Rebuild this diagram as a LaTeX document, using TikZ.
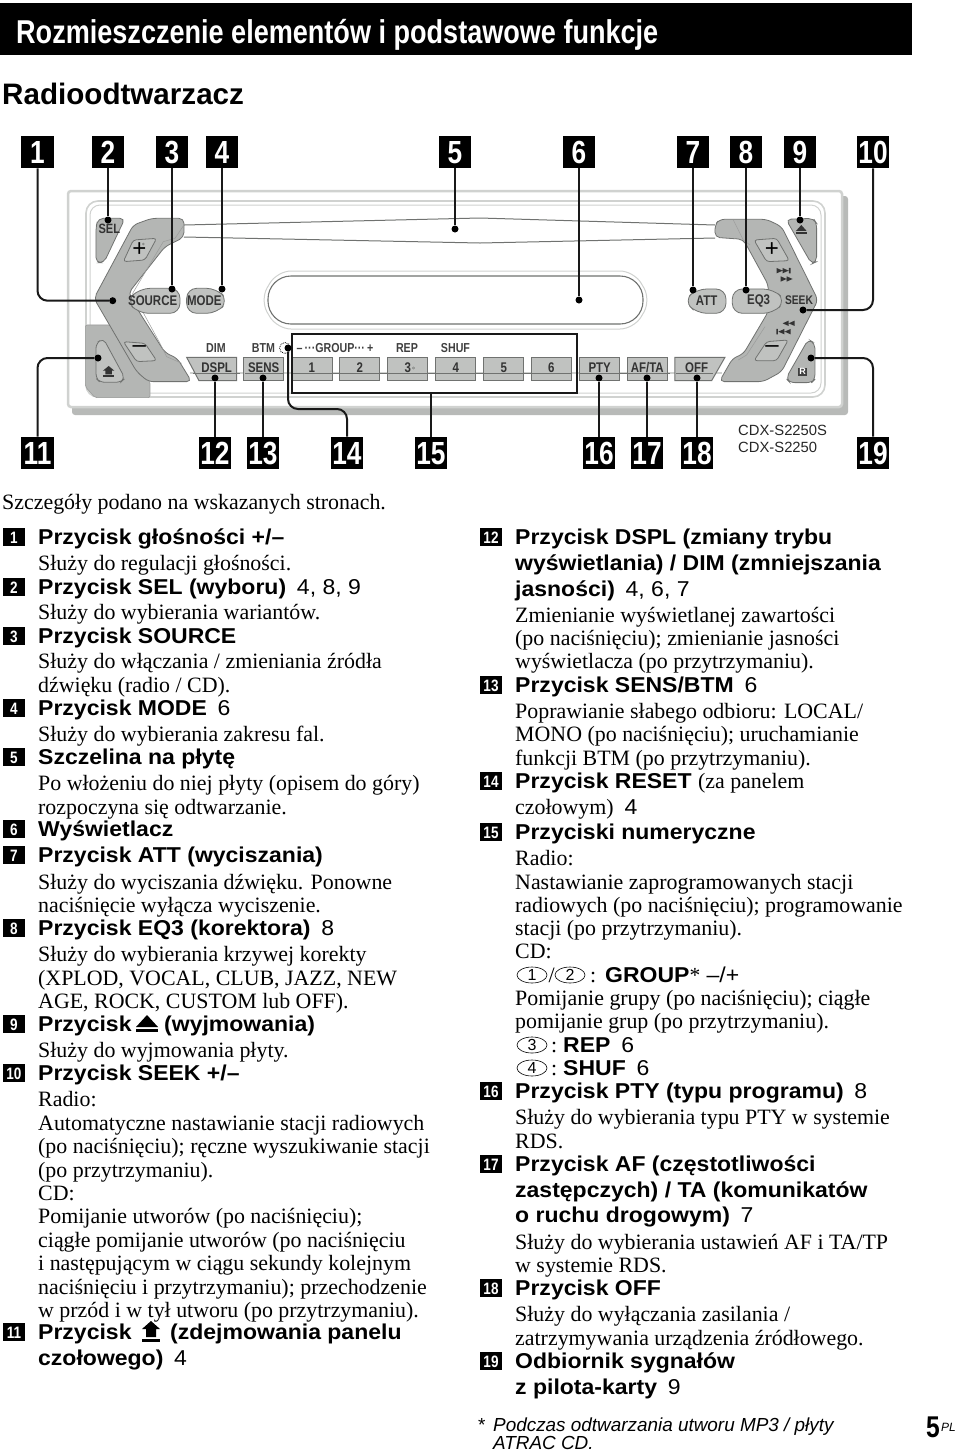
\documentclass[tikz,border=0pt]{standalone}
\usepackage{fontspec}
\usepackage{xcolor}
\setmainfont{Liberation Serif}
\setsansfont{Liberation Sans}
\newfontfamily\narrowfont[FakeStretch=0.82]{Liberation Sans}
\newfontfamily\bannerfont[FakeStretch=0.82]{Liberation Sans}
\newfontfamily\widefont[FakeStretch=1.07]{Liberation Sans}
\usetikzlibrary{shapes.geometric,positioning}
\definecolor{shellg}{RGB}{180,182,180}
\definecolor{btng}{RGB}{192,194,192}
\definecolor{edgeg}{RGB}{112,114,112}
\definecolor{frameg}{RGB}{208,210,208}
\definecolor{shadeg}{RGB}{184,186,184}
\newcommand{\fsz}[1]{\fontsize{#1}{#1}\selectfont}
\newcommand{\pgnum}[1]{{\mdseries\hspace{.5em}#1}}

\begin{document}
\begin{tikzpicture}[x=1pt,y=-1pt,
  body/.style={anchor=base west,inner sep=0pt,font=\rmfamily\fsz{21.9}},
  head/.style={anchor=base west,inner sep=0pt,font=\widefont\bfseries\fsz{21.5}},
  tagn/.style={rectangle,fill=black,text=white,minimum width=32.5,minimum height=32.5,inner sep=0pt,text height=23pt,text depth=0pt,font=\narrowfont\bfseries\fsz{32}},
  smalltag/.style={rectangle,fill=black,text=white,minimum width=22,minimum height=18,inner sep=0pt,text height=12pt,text depth=0pt,font=\narrowfont\bfseries\fsz{16.5}},
  dotn/.style={circle,fill=black,minimum size=7,inner sep=0pt},
  lead/.style={line width=2pt,black!90,rounded corners=10pt},
  btn/.style={rectangle,draw=edgeg,line width=1pt,fill=btng,minimum width=40.5,minimum height=23.3,inner sep=0pt,text height=10pt,text depth=3pt,font=\narrowfont\bfseries\fsz{14},text=black!80},
  lbl/.style={inner sep=0pt,font=\narrowfont\bfseries\fsz{13},text=black!75},
  part/.style={fill=shellg,draw=edgeg,line width=.8pt,rounded corners=5pt},
  oval/.style={ellipse,draw,line width=.6pt,minimum width=30,minimum height=16,inner sep=0pt,font=\sffamily\fsz{16}}
]
\useasboundingbox (0,0) rectangle (960,1452);
% banner
\fill[black] (0,3) rectangle (912,55);
\node[anchor=base west,inner sep=0pt,text=white,font=\bannerfont\bfseries\fsz{33}] (banner) at (16,43) {Rozmieszczenie elementów i podstawowe funkcje};
\node[anchor=base west,inner sep=0pt,font=\sffamily\bfseries\fsz{29.6}] (radio) at (2,104) {Radioodtwarzacz};
% faceplate
\fill[shadeg,rounded corners=3pt] (72,196) rectangle (848,415);
\draw[frameg,fill=white,line width=2.5pt,rounded corners=3pt] (68,191) rectangle (842,407);
\draw[frameg,line width=1.6pt,rounded corners=12pt] (86,201) rectangle (825,397);
\draw[frameg,line width=1pt,rounded corners=10pt] (90,205) rectangle (821,393);
% slot
\draw[edgeg,line width=1pt] (184,225) -- (480,218) -- (715,225);
\draw[edgeg,line width=1pt] (184,237) -- (480,243) -- (715,238);
% display
\draw[frameg,line width=1pt,rounded corners=14pt] (260,300) -- (277,271) -- (634,271) -- (651,300) -- (634,329) -- (277,329) -- cycle;
\draw[edgeg,line width=1.1pt,rounded corners=23pt] (268,276) rectangle (643,324);
% strip behind the lower keys
\draw[frameg,line width=1.5pt] (190,373) -- (722,373);
% left side, in 3x crop units
\begin{scope}[shift={(0,130)},x=0.3333pt,y=-0.3333pt]
  \filldraw[shellg,draw=edgeg!70,line width=.6pt,rounded corners=2pt] (256,585) -- (340,585) -- (450,755) -- (450,803) -- (285,803) -- (256,770) -- cycle;
  \filldraw[part,fill=btng] (310,625) -- (375,745) -- (362,757) -- (300,757) -- (288,745) -- (288,640) -- cycle;
  \filldraw[part] (295,265) -- (375,265) -- (312,398) -- (288,398) -- (288,290) -- cycle;
  \filldraw[part] (552,265) -- (455,265) -- (400,285) -- (282,505) -- (410,725) -- (445,755) -- (575,755) -- (532,685) -- (495,668) -- (420,550) -- (385,490) -- (495,350) -- (552,322) -- cycle;
  \draw[edgeg!70,line width=.5pt] (552,285) -- (525,325) -- (490,335) -- (398,490) -- (480,640) -- (500,680) -- (545,700);
  \filldraw[part,fill=btng,rounded corners=3pt] (400,330) -- (470,325) -- (435,390) -- (370,395) -- cycle;
  \filldraw[part,fill=btng,rounded corners=3pt] (370,635) -- (435,640) -- (470,692) -- (410,695) -- cycle;
  \draw[edgeg,line width=.4pt] (430,342) circle (3);
  \node[inner sep=0pt,font=\sffamily\fsz{24}] (volup) at (418,360) {+};
  \node[inner sep=0pt,font=\sffamily\fsz{24}] (voldn) at (418,658) {–};
  \node[inner sep=0pt,font=\narrowfont\bfseries\fsz{13.5},text=black!80] (sellbl) at (328,298) {SEL};
  \filldraw[part,fill=btng,rounded corners=10pt] (420,475) -- (540,475) -- (540,550) -- (415,550) -- (380,512) -- cycle;
  \filldraw[part,fill=btng,rounded corners=10pt] (560,475) -- (650,475) -- (685,512) -- (650,550) -- (560,550) -- cycle;
  \node[inner sep=0pt,font=\narrowfont\bfseries\fsz{14},text=black!80] (srclbl) at (458,513) {SOURCE};
  \node[inner sep=0pt,font=\narrowfont\bfseries\fsz{14},text=black!80] (modelbl) at (613,513) {MODE};
  \filldraw[fill=btng,draw=edgeg,line width=1pt] (560,682) -- (710,682) -- (710,752) -- (597,752) -- cycle;
  \node[inner sep=0pt,font=\narrowfont\bfseries\fsz{14},text=black!80] (dspl) at (650,713) {DSPL};
  % release icon
  \fill[black!80] (310,735) rectangle (342,741);
  \fill[black!80] (326,708) -- (343,722) -- (336,722) -- (336,733) -- (316,733) -- (316,722) -- (309,722) -- cycle;
\end{scope}
% right side, in 3x crop units
\begin{scope}[shift={(480,130)},x=0.3333pt,y=-0.3333pt]
  \filldraw[part] (705,285) -- (718,268) -- (860,268) -- (905,290) -- (1014,510) -- (905,725) -- (850,755) -- (718,755) -- (758,685) -- (790,672) -- (865,545) -- (865,465) -- (790,328) -- (705,322) -- cycle;
  \draw[edgeg!70,line width=.5pt] (760,270) -- (790,330) -- (810,345);
  \draw[edgeg!70,line width=.5pt] (775,690) -- (800,675) -- (855,590);
  \filldraw[part,fill=btng,rounded corners=3pt] (822,330) -- (890,325) -- (928,392) -- (860,395) -- cycle;
  \filldraw[part,fill=btng,rounded corners=3pt] (822,692) -- (860,635) -- (925,630) -- (890,692) -- cycle;
  \node[inner sep=0pt,font=\sffamily\fsz{24}] (seekup) at (876,360) {+};
  \node[inner sep=0pt,font=\sffamily\fsz{24}] (seekdn) at (876,658) {–};
  \filldraw[part] (918,268) -- (1000,265) -- (1010,280) -- (1010,395) -- (995,402) -- cycle;
  \filldraw[part] (985,628) -- (1005,640) -- (1005,748) -- (995,758) -- (930,758) -- (918,745) -- cycle;
  \fill[black!80] (948,303) -- (964,285) -- (980,303) -- cycle;
  \fill[black!80] (948,307) rectangle (980,313);
  \node[inner sep=1pt,fill=black!75,text=white,font=\sffamily\bfseries\fsz{9}] (rmark) at (968,725) {R};
  \fill[black!80] (890,414) -- (908,422) -- (890,430) -- cycle (908,414) -- (926,422) -- (908,430) -- cycle (927,414) rectangle (932,430);
  \fill[black!80] (902,439) -- (920,447) -- (902,455) -- cycle (920,439) -- (938,447) -- (920,455) -- cycle;
  \fill[black!80] (944,572) -- (926,580) -- (944,588) -- cycle (926,572) -- (908,580) -- (926,588) -- cycle;
  \fill[black!80] (889,597) rectangle (894,613) (913,597) -- (895,605) -- (913,613) -- cycle (932,597) -- (914,605) -- (932,613) -- cycle;
  \filldraw[part,fill=btng,rounded corners=10pt] (650,477) -- (738,477) -- (738,550) -- (650,550) -- (612,512) -- cycle;
  \filldraw[part,fill=btng,rounded corners=10pt] (757,477) -- (880,477) -- (917,512) -- (880,550) -- (757,550) -- cycle;
  \node[inner sep=0pt,font=\narrowfont\bfseries\fsz{14},text=black!80] (attlbl) at (680,513) {ATT};
  \node[inner sep=0pt,font=\narrowfont\bfseries\fsz{14},text=black!80] (eqlbl) at (836,513) {EQ3};
  \node[inner sep=0pt,font=\narrowfont\bfseries\fsz{12.5},text=black!80] (seeklbl) at (957,512) {SEEK};
  \filldraw[fill=btng,draw=edgeg,line width=1pt] (585,682) -- (735,682) -- (695,752) -- (585,752) -- cycle;
  \node[inner sep=0pt,font=\narrowfont\bfseries\fsz{14},text=black!80] (off) at (650,713) {OFF};
\end{scope}
% lower keys
\foreach \n/\x/\t in {sens/263.7/SENS,k1/311.8/1,k2/359.7/2,k3/407.7/3,k4/455.7/4,k5/503.7/5,k6/551.3/6,pty/599.7/PTY,afta/647.3/{AF/TA}}{
  \node[btn] (\n) at (\x,369) {\t};
}
\draw[edgeg,line width=.5pt] (193,373) -- (240,373) (245,373) -- (284,373) (291,373) -- (571,373) (580,373) -- (670,373) (676,373) -- (713,373);
\draw[edgeg,line width=.4pt] (413.5,368) circle (1.2);
\foreach \n/\x/\t in {dim/216/DIM,btm/263.5/BTM,group/335/–\,···GROUP···\,+,rep/407/REP,shuf/455.5/SHUF}{
  \node[lbl] (\n) at (\x,348) {\t};
}
\draw[black,densely dotted,line width=.8pt] (285,348) circle (5.5);
% frame of the number keys
\node[rectangle,draw=black!90,line width=1.8pt,minimum width=285,minimum height=59,inner sep=0pt] (numbox) at (434.5,363.5) {};
% callouts
\foreach \n/\x in {1/37.5,2/108,3/172,4/222,5/455,6/579,7/693,8/746,9/800,10/873}{
  \node[tagn] (c\n) at (\x,152) {\n};
}
\foreach \n/\x in {11/37.5,12/215,13/263,14/347,15/431,16/599,17/647,18/697,19/873}{
  \node[tagn] (c\n) at (\x,453) {\n};
}
\foreach \n/\x/\y in {1/112.7/300.7,2/108/220,3/172/289,4/222/289,5/455/229,6/579/300,7/693/290,8/746/290,9/800/220,10/803/310,11/98/358,12/215/378,13/263/378,14/288/348,16/599/378,17/647/378,18/697/378,19/811/358}{
  \node[dotn] (d\n) at (\x,\y) {};
}
\foreach \a/\b in {c2/d2,c3/d3,c4/d4,c5/d5,c6/d6,c7/d7,c8/d8,c9/d9,c12/d12,c13/d13,c16/d16,c17/d17,c18/d18}{
  \draw[lead] (\a) -- (\b);
}
\foreach \a/\b in {c1/d1,c10/d10,c11/d11,c19/d19}{
  \draw[lead] (\a) |- (\b);
}
\coordinate (k14) at (288,409);
\draw[lead] (c14.north) |- (k14) -- (d14);
\draw[lead] (c15.north) -- (c15.north |- numbox.south);
\node[anchor=base west,inner sep=0pt,font=\sffamily\fsz{14.8},text=black!85] (model1) at (738,435) {CDX-S2250S};
\node[anchor=base west,inner sep=0pt,font=\sffamily\fsz{14.8},text=black!85] (model2) at (738,452) {CDX-S2250};
% text, left column
\node[body] (intro) at (2,509) {Szczegóły podano na wskazanych stronach.};
\foreach \n/\y in {1/544,2/594,3/643,4/715,5/764,6/836,7/862,8/935,9/1031,10/1080,11/1339}{
  \node[smalltag] (s\n) at (14,\y-7) {\n};
}
\foreach \y/\t in {544/{Przycisk głośności +/–},594/{Przycisk SEL (wyboru)\pgnum{4, 8, 9}},643/{Przycisk SOURCE},715/{Przycisk MODE\pgnum{6}},764/{Szczelina na płytę},836/{Wyświetlacz},862/{Przycisk ATT (wyciszania)},935/{Przycisk EQ3 (korektora)\pgnum{8}},1080/{Przycisk SEEK +/–},1365/{czołowego)\pgnum{4}}}{
  \node[head] (h\y) at (38,\y) {\t};
}
\node[head] (h1031) at (38,1031) {Przycisk};
\node[head] (h1031b) at (164,1031) {(wyjmowania)};
\fill (136,1027) -- (147,1015) -- (158,1027) -- cycle;
\fill (136,1029) rectangle (158,1032);
\node[head] (h1339) at (38,1339) {Przycisk};
\node[head] (h1339b) at (170,1339) {(zdejmowania panelu};
\fill (142,1339) rectangle (160,1342);
\fill (151,1321) -- (160,1329) -- (156,1329) -- (156,1337) -- (146,1337) -- (146,1329) -- (142,1329) -- cycle;
\foreach \y/\t in {570/{Służy do regulacji głośności.},619/{Służy do wybierania wariantów.},668/{Służy do włączania / zmieniania źródła},692/{dźwięku (radio / CD).},741/{Służy do wybierania zakresu fal.},790/{Po włożeniu do niej płyty (opisem do góry)},814/{rozpoczyna się odtwarzanie.},889/{Służy do wyciszania dźwięku. Ponowne},912/{naciśnięcie wyłącza wyciszenie.},961/{Służy do wybierania krzywej korekty},985/{(XPLOD, VOCAL, CLUB, JAZZ, NEW},1008/{AGE, ROCK, CUSTOM lub OFF).},1057/{Służy do wyjmowania płyty.},1106/{Radio:},1130/{Automatyczne nastawianie stacji radiowych},1153/{(po naciśnięciu); ręczne wyszukiwanie stacji},1177/{(po przytrzymaniu).},1200/{CD:},1223/{Pomijanie utworów (po naciśnięciu);},1247/{ciągłe pomijanie utworów (po naciśnięciu},1270/{i następującym w ciągu sekundy kolejnym},1294/{naciśnięciu i przytrzymaniu); przechodzenie},1317/{w przód i w tył utworu (po przytrzymaniu).}}{
  \node[body] (b\y) at (38,\y) {\t};
}
% text, right column
\foreach \n/\y in {12/544,13/692,14/788,15/839,16/1098,17/1171,18/1295,19/1368}{
  \node[smalltag] (s\n) at (491,\y-7) {\n};
}
\foreach \y/\t in {544/{Przycisk DSPL (zmiany trybu},570/{wyświetlania) / DIM (zmniejszania},596/{jasności)\pgnum{4, 6, 7}},692/{Przycisk SENS/BTM\pgnum{6}},788/{Przycisk RESET {\rmfamily\mdseries\fsz{21.9}(za panelem}},814/{\mdseries\rmfamily\fsz{21.9}czołowym)\hspace{.5em}\widefont\fsz{21.5}4},839/{Przyciski numeryczne},1098/{Przycisk PTY (typu programu)\pgnum{8}},1171/{Przycisk AF (częstotliwości},1197/{zastępczych) / TA (komunikatów},1222/{o ruchu drogowym)\pgnum{7}},1295/{Przycisk OFF},1368/{Odbiornik sygnałów},1394/{z pilota-karty\pgnum{9}}}{
  \node[head] (r\y) at (515,\y) {\t};
}
\foreach \y/\t in {622/{Zmienianie wyświetlanej zawartości},645/{(po naciśnięciu); zmienianie jasności},668/{wyświetlacza (po przytrzymaniu).},718/{Poprawianie słabego odbioru: LOCAL/},741/{MONO (po naciśnięciu); uruchamianie},765/{funkcji BTM (po przytrzymaniu).},865/{Radio:},889/{Nastawianie zaprogramowanych stacji},912/{radiowych (po naciśnięciu); programowanie},935/{stacji (po przytrzymaniu).},958/{CD:},1005/{Pomijanie grupy (po naciśnięciu); ciągłe},1028/{pomijanie grup (po przytrzymaniu).},1124/{Służy do wybierania typu PTY w systemie},1148/{RDS.},1249/{Służy do wybierania ustawień AF i TA/TP},1272/{w systemie RDS.},1321/{Służy do wyłączania zasilania /},1345/{zatrzymywania urządzenia źródłowego.}}{
  \node[body] (q\y) at (515,\y) {\t};
}
\node[oval] (o1) at (532,975) {1};
\node[oval] (o2) at (570,975) {2};
\node[body] (oslash) at (548.5,982) {/};
\node[body] (ocolon) at (590,982) {:};
\node[head] (ogroup) at (605,982) {GROUP{\rmfamily\mdseries *} {\mdseries –/+}};
\node[oval] (o3) at (532,1045) {3};
\node[body] (rcolon) at (551,1052) {:};
\node[head] (orep) at (563,1052) {REP\pgnum{6}};
\node[oval] (o4) at (532,1068) {4};
\node[body] (scolon) at (551,1075) {:};
\node[head] (oshuf) at (563,1075) {SHUF\pgnum{6}};
% foot
\node[anchor=base west,inner sep=0pt,font=\sffamily\fsz{18.9}] (star) at (478,1431) {*};
\node[anchor=base west,inner sep=0pt,font=\sffamily\itshape\fsz{18.9}] (foot1) at (493,1431) {Podczas odtwarzania utworu MP3 / płyty};
\node[anchor=base west,inner sep=0pt,font=\sffamily\itshape\fsz{18.9}] (foot2) at (493,1449) {ATRAC CD.};
\node[anchor=base west,inner sep=0pt,font=\narrowfont\bfseries\fsz{30}] (pagenum) at (926,1437) {5};
\node[anchor=base west,inner sep=0pt,font=\sffamily\itshape\fsz{12}] (pagepl) at (941,1431) {PL};
\end{tikzpicture}
\end{document}
